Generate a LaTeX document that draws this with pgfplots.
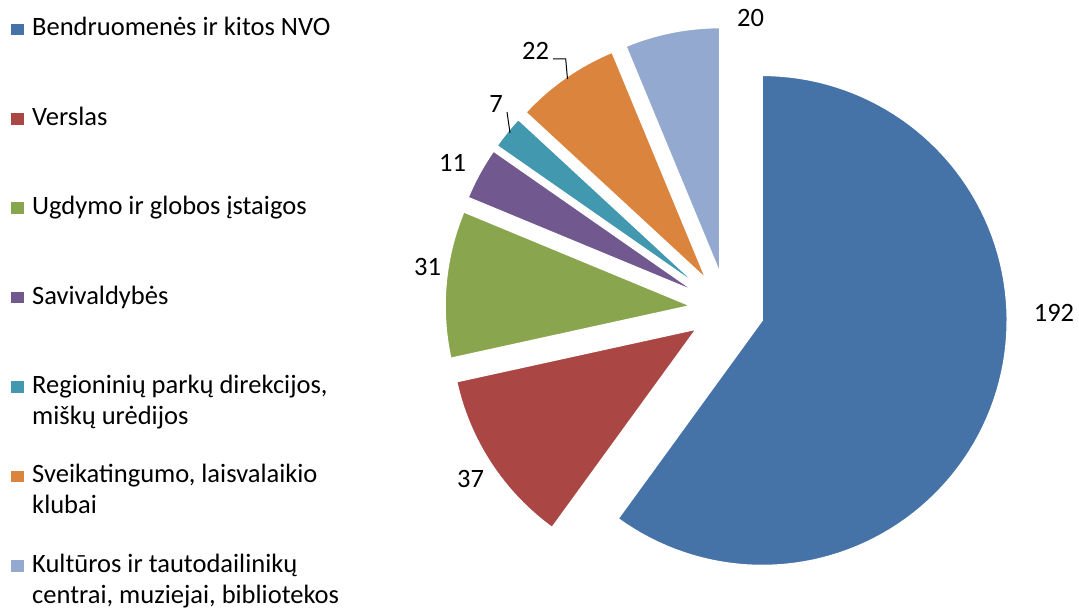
\documentclass[border=0pt]{standalone}
\usepackage{pgfplots}
\pgfplotsset{compat=1.18}
\usepackage{fontspec}
\setmainfont{Carlito}
\definecolor{cBlue}{HTML}{4572A7}
\definecolor{cRed}{HTML}{AA4643}
\definecolor{cGreen}{HTML}{89A54E}
\definecolor{cPurple}{HTML}{71588F}
\definecolor{cTeal}{HTML}{4198AF}
\definecolor{cOrange}{HTML}{DB843D}
\definecolor{cLight}{HTML}{93A9CF}
% #1 = cumulative value before slice, #2 = value, #3 = colour (total 320)
\newcommand{\pieslice}[3]{%
  \pgfmathsetmacro{\sa}{90-(#1)/320*360}%
  \pgfmathsetmacro{\sb}{90-((#1)+(#2))/320*360}%
  \pgfmathsetmacro{\sm}{(\sa+\sb)/2}%
  \pgfmathsetmacro{\ox}{727+37*cos(\sm)}%
  \pgfmathsetmacro{\oy}{303+37*sin(\sm)}%
  \edef\doslice{\noexpand\addplot[fill=#3, draw=white, line width=1.3pt, line join=miter, domain=\sb:\sa, samples=100, variable=\noexpand\t]
    ({\ox+245*cos(\noexpand\t)},{\oy+245*sin(\noexpand\t)}) -- (axis cs:\ox,\oy) -- cycle;}%
  \doslice
}
\newcommand{\legentry}[3]{% #1 baseline y, #2 colour, #3 text
  \fill[#2] (axis cs:11,#1+0.7) rectangle (axis cs:23.5,#1+12.3);
  \node at (axis cs:32,#1) {#3};
}
\begin{document}
\begin{tikzpicture}
\useasboundingbox (0,0) rectangle (1079pt,612pt);
\begin{axis}[at={(0,0)}, anchor=south west, scale only axis,
  width=1079pt, height=612pt, xmin=0, xmax=1079, ymin=0, ymax=612,
  hide axis, clip=false]
% values: 192, 37, 31, 11, 7, 22, 20 (total 320)
\pieslice{0}{192}{cBlue}
\pieslice{192}{37}{cRed}
\pieslice{229}{31}{cGreen}
\pieslice{260}{11}{cPurple}
\pieslice{271}{7}{cTeal}
\pieslice{278}{22}{cOrange}
\pieslice{300}{20}{cLight}
% data labels
\begin{scope}[every node/.style={font=\fontsize{26.5}{32}\selectfont, text=black, inner sep=0pt}]
\node at (axis cs:1054,299.5) {192};
\node at (axis cs:470.5,133.5) {37};
\node at (axis cs:427.5,345) {31};
\node at (axis cs:452.5,449) {11};
\node at (axis cs:496,508) {7};
\node at (axis cs:535.5,561) {22};
\node at (axis cs:750.5,594) {20};
\end{scope}
\draw[black, line width=1pt] (axis cs:553,553) -- (axis cs:565.7,553) -- (axis cs:567.5,533);
\draw[black, line width=1pt] (axis cs:507,500) -- (axis cs:510,479);
% legend
\begin{scope}[every node/.style={font=\fontsize{26.5}{32}\selectfont, text=black, inner sep=0pt, anchor=base west}]
\legentry{576}{cBlue}{Bendruomenės ir kitos NVO}
\legentry{486.6}{cRed}{Verslas}
\legentry{397.2}{cGreen}{Ugdymo ir globos įstaigos}
\legentry{307.8}{cPurple}{Savivaldybės}
\legentry{218.4}{cTeal}{Regioninių parkų direkcijos,}
\node at (axis cs:32,187.4) {miškų urėdijos};
\legentry{129}{cOrange}{Sveikatingumo, laisvalaikio}
\node at (axis cs:32,98) {klubai};
\legentry{39.6}{cLight}{Kultūros ir tautodailinikų}
\node at (axis cs:32,8.6) {centrai, muziejai, bibliotekos};
\end{scope}
\end{axis}
\end{tikzpicture}
\end{document}
